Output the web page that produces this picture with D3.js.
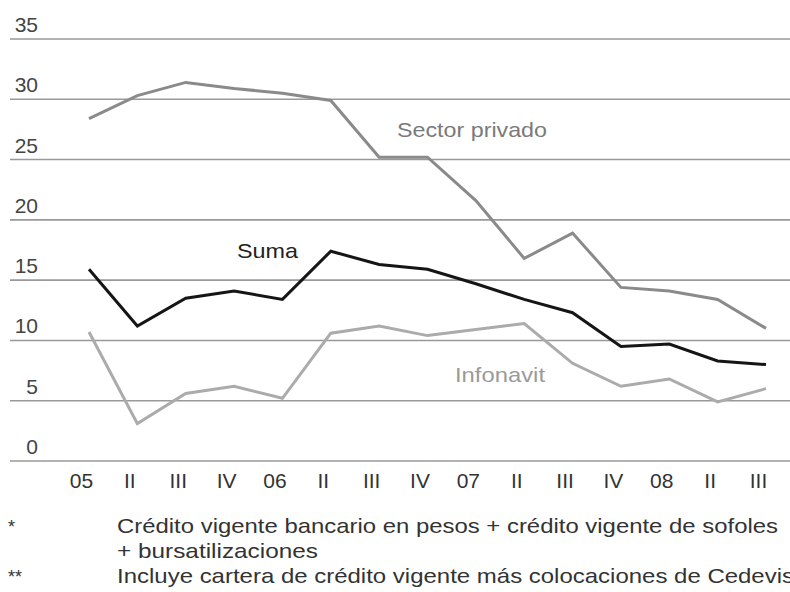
<!DOCTYPE html>
<html>
<head><meta charset="utf-8"></head>
<style>
  html, body { margin: 0; background: #fff; }
  svg { display: block; }
  text { font-family: "Liberation Sans", Arial, sans-serif; }
</style>
<body>
<svg width="790" height="592"></svg>
<script src="https://cdnjs.cloudflare.com/ajax/libs/d3/7.8.5/d3.min.js"></script>
<script>
  // quarters, 2005 I to 2008 III
  const quarters = ['05', 'II', 'III', 'IV', '06', 'II', 'III', 'IV', '07', 'II', 'III', 'IV', '08', 'II', 'III'];
  const yTicks = [0, 5, 10, 15, 20, 25, 30, 35];

  const privado   = [28.4, 30.3, 31.4, 30.9, 30.5, 29.9, 25.2, 25.2, 21.6, 16.8, 18.9, 14.4, 14.1, 13.4, 11.0];
  const suma      = [15.9, 11.2, 13.5, 14.1, 13.4, 17.4, 16.3, 15.9, 14.7, 13.4, 12.3, 9.5, 9.7, 8.3, 8.0];
  const infonavit = [10.7, 3.1, 5.6, 6.2, 5.2, 10.6, 11.2, 10.4, 10.9, 11.4, 8.1, 6.2, 6.8, 4.9, 6.0];

  const footnotes = [
    ['*', 'Crédito vigente bancario en pesos + crédito vigente de sofoles'],
    ['', '+ bursatilizaciones'],
    ['**', 'Incluye cartera de crédito vigente más colocaciones de Cedevis']
  ];

  const svg = d3.select('svg');

  const x = d3.scalePoint()
      .domain(d3.range(quarters.length))
      .range([89, 766]);

  const y = d3.scaleLinear()
      .domain([0, 35])
      .range([461, 39]);

  // grid lines with labels sitting on top of them
  const grid = svg.append('g');
  grid.selectAll('line')
    .data(yTicks)
    .join('line')
      .attr('x1', 10)
      .attr('x2', 790)
      .attr('y1', d => y(d))
      .attr('y2', d => y(d))
      .attr('stroke', '#999')
      .attr('stroke-width', 1.6);
  grid.selectAll('text')
    .data(yTicks)
    .join('text')
      .attr('x', 38)
      .attr('y', d => y(d) - 7)
      .attr('text-anchor', 'end')
      .attr('font-size', 21)
      .attr('fill', '#444')
      .text(d => d);

  // x axis labels
  const xAxis = svg.append('g')
      .attr('transform', 'translate(-8,461)')
      .call(d3.axisBottom(x).tickSize(0).tickPadding(12).tickFormat(i => quarters[i]));
  xAxis.select('.domain').remove();
  xAxis.selectAll('text')
      .attr('font-size', 21)
      .attr('fill', '#333')
      .attr('font-family', null);

  const line = d3.line()
      .x((d, i) => x(i))
      .y(d => y(d));

  const series = [
    {values: privado, color: '#8a8a8a'},
    {values: infonavit, color: '#ababab'},
    {values: suma, color: '#151515'}
  ];

  svg.append('g').selectAll('path')
    .data(series)
    .join('path')
      .attr('d', d => line(d.values))
      .attr('fill', 'none')
      .attr('stroke', d => d.color)
      .attr('stroke-width', 3)
      .attr('stroke-linejoin', 'miter');

  // series labels
  const labels = [
    {text: 'Sector privado', x: 397, y: 137, w: 150, color: '#7a7a7a'},
    {text: 'Suma', x: 237, y: 258, w: 61, color: '#222'},
    {text: 'Infonavit', x: 455, y: 382, w: 90, color: '#9a9a9a'}
  ];
  svg.append('g').selectAll('text')
    .data(labels)
    .join('text')
      .attr('x', d => d.x)
      .attr('y', d => d.y)
      .attr('font-size', 21)
      .attr('fill', d => d.color)
      .attr('textLength', d => d.w)
      .attr('lengthAdjust', 'spacingAndGlyphs')
      .text(d => d.text);

  // footnotes
  const notes = svg.append('g');
  const noteW = [661, 201, 677];
  footnotes.forEach((f, i) => {
    const by = 533 + i * 25;
    notes.append('text')
      .attr('x', 8)
      .attr('y', by)
      .attr('font-size', 18)
      .attr('fill', '#333')
      .text(f[0]);
    notes.append('text')
      .attr('x', 117)
      .attr('y', by)
      .attr('font-size', 21)
      .attr('fill', '#333')
      .attr('textLength', noteW[i])
      .attr('lengthAdjust', 'spacingAndGlyphs')
      .text(f[1]);
  });
</script>
</body>
</html>
